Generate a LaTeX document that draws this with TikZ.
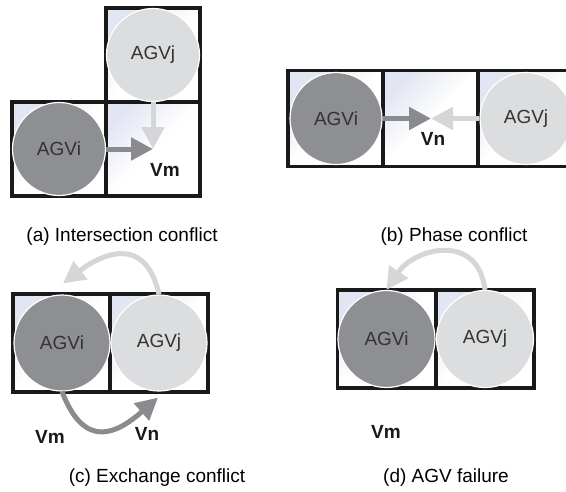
\documentclass[tikz,border=0pt]{standalone}
\usepackage{fontspec}
\setmainfont{Liberation Sans}
\usepackage{tikz}
\usetikzlibrary{arrows.meta, calc}

\definecolor{agvdark}{HTML}{8E8F92}
\definecolor{agvlight}{HTML}{DCDDDF}
\definecolor{arrdark}{HTML}{8A8B8E}
\definecolor{arrlight}{HTML}{D5D6D8}
\definecolor{celltint}{HTML}{E2E5F2}
\definecolor{txt}{HTML}{333333}

\begin{document}
\begin{tikzpicture}[x=1pt, y=1pt,
        every node/.style={font=\fontsize{19}{23}\selectfont},
        cell/.style={draw=black!90, line width=3.4pt, top color=celltint, bottom color=white,
            middle color=white, shading angle=45, minimum size=#1, inner sep=0pt},
        cell/.default=96,
        agv/.style={circle, draw=white, line width=1.2pt, minimum size=#1, inner sep=0pt, text=txt},
        agvi/.style={agv=#1, fill=agvdark},
        agvj/.style={agv=#1, fill=agvlight},
        darr/.style={draw=arrdark, line width=5pt, -{Triangle[length=22pt, width=22pt]}},
        larr/.style={draw=arrlight, line width=5pt, -{Triangle[length=22pt, width=22pt]}},
        vlbl/.style={font=\fontsize{19}{23}\selectfont\bfseries, text=black!90}]
    \fill[white] (0,0) rectangle (566,-491);
    \useasboundingbox (0,0) rectangle (566,-491);

    % (a) intersection
    \node[cell=94] (a1) at (153,-55) {};
    \node[cell=94] (a2) at (59,-149) {};
    \node[cell=94] (a3) at (153,-149) {};
    \node[agvj=93] (aj) at (a1) {AGVj};
    \node[agvi=93] (ai) at (a2) {AGVi};
    \draw[larr] (aj) -- (a3.center);
    \draw[darr] (ai) -- (a3.center);
    \node[vlbl] (am) at (165,-170) {Vm};
    \node (acap) at (122,-237) {(a) Intersection conflict};

    % (b) phase
    \foreach \n/\x in {1/336, 2/431, 3/526}
        \node[cell] (b\n) at (\x,-118.5) {};
    \node[agvi=92] (bi) at (b1) {AGVi};
    \node[agvj=92] (bj) at (b3) {AGVj};
    \draw[larr] (bj) -- (b2.center);
    \draw[darr] (bi) -- (b2.center);
    \node[vlbl] (bn) at (433,-139) {Vn};
    \node (bcap) at (454,-237) {(b) Phase conflict};

    % (c) exchange
    \node[cell=98] (c1) at (62,-343) {};
    \node[cell=98] (c2) at (159,-343) {};
    \node[agvi=96] (ci) at (c1) {AGVi};
    \node[agvj=96] (cj) at (c2) {AGVj};
    \draw[larr] (cj.north) .. controls +(-14,62) and +(37,28) .. ($(ci.north)+(1,11)$);
    \draw[darr] (ci.south) .. controls +(23,-60) and +(-40,-35) .. ($(cj.south)+(-1,-6)$);
    \node[vlbl] (cm) at (50,-437) {Vm};
    \node[vlbl] (cn) at (147,-434) {Vn};
    \node (ccap) at (157,-478) {(c) Exchange conflict};

    % (d) failure
    \node[cell=98] (d1) at (386.5,-339) {};
    \node[cell=98] (d2) at (485,-339) {};
    \node[agvi=97] (di) at (d1) {AGVi};
    \node[agvj=97] (dj) at (d2) {AGVj};
    \draw[larr] (dj.north) .. controls +(-7,58) and +(28,42) .. (di.north);
    \node[vlbl] (dm) at (386,-432) {Vm};
    \node (dcap) at (446,-478) {(d) AGV failure};
\end{tikzpicture}
\end{document}
